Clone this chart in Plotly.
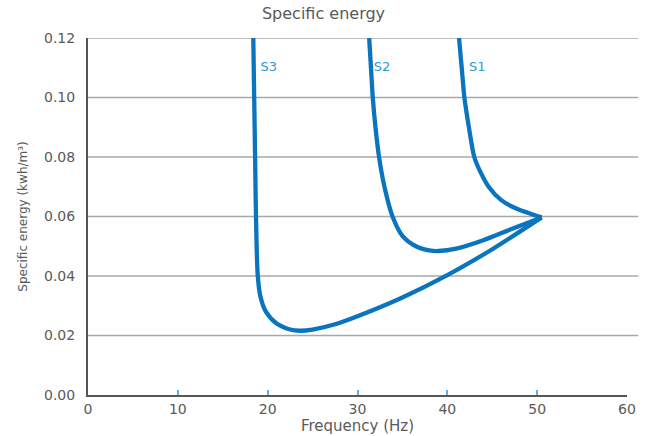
import plotly.graph_objects as go

# Data
s1_freq = [41.3, 41.6, 41.9, 42.4, 43.0, 43.6, 44.6, 46.0, 47.8, 49.5, 50.5]
s1_energy = [0.12, 0.11, 0.10, 0.09, 0.080, 0.0755, 0.070, 0.0655, 0.0625, 0.0607, 0.0597]

s2_freq = [31.3, 31.5, 31.7, 32.0, 32.4, 33.0, 33.9, 35.0, 36.5, 38.0, 39.0, 41.0, 44.0, 47.0, 50.5]
s2_energy = [0.12, 0.11, 0.10, 0.09, 0.080, 0.070, 0.060, 0.0535, 0.0500, 0.0486, 0.0484, 0.0492, 0.0520, 0.0556, 0.0597]

s3_freq = [18.4, 18.5, 18.6, 18.7, 18.9, 19.2, 19.8, 21.0, 22.5, 23.6, 25.0, 27.5, 30.0, 35.0, 40.0, 45.0, 50.5]
s3_energy = [0.12, 0.10, 0.08, 0.06, 0.040, 0.033, 0.028, 0.0240, 0.0220, 0.0216, 0.0220, 0.0238, 0.0265, 0.0328, 0.0403, 0.0490, 0.0597]

series_names = ["S1", "S2", "S3"]
label_freq = [42.4, 31.8, 19.2]
label_energy = [0.1099, 0.1099, 0.1099]

x_ticks = [0, 10, 20, 30, 40, 50, 60]
y_ticks = [0.00, 0.02, 0.04, 0.06, 0.08, 0.10, 0.12]

line_color = "#0a74bf"
label_color = "#2b9ad8"
text_color = "#5a5a5a"
font_family = "DejaVu Sans, sans-serif"

fig = go.Figure()
for name, fx, fy in zip(series_names, [s1_freq, s2_freq, s3_freq], [s1_energy, s2_energy, s3_energy]):
    fig.add_trace(go.Scatter(
        x=fx, y=fy, mode="lines", name=name,
        line=dict(color=line_color, width=4.3, shape="spline", smoothing=0.8),
        showlegend=False, hoverinfo="skip",
    ))

fig.add_trace(go.Scatter(
    x=label_freq, y=label_energy, mode="text", text=series_names,
    textposition="middle right",
    textfont=dict(color=label_color, size=13, family=font_family),
    showlegend=False, hoverinfo="skip",
))

# horizontal grid lines extending slightly past the right end of the x axis
for v in y_ticks[1:]:
    fig.add_shape(type="line", xref="paper", yref="y", x0=0, x1=1.021, y0=v, y1=v,
                  line=dict(color="#a8a8a8", width=1.5), layer="below")

fig.update_layout(
    width=647, height=436,
    margin=dict(l=88, r=20, t=38, b=41),
    paper_bgcolor="white", plot_bgcolor="white",
    font=dict(family=font_family, color=text_color, size=13),
    title=dict(text="Specific energy", x=0.5, xanchor="center", y=0.982, yanchor="top",
               font=dict(size=16, color=text_color, family=font_family)),
)

fig.update_xaxes(
    range=[0, 60], tickvals=x_ticks, ticktext=[str(v) for v in x_ticks],
    showgrid=False, zeroline=False, automargin=False,
    showline=True, linecolor="#555555", linewidth=2,
    ticks="inside", ticklen=5, tickcolor="#5bb0e8", tickwidth=1.5,
    tickfont=dict(size=14, color=text_color),
    title=dict(text="Frequency (Hz)", font=dict(size=15, color=text_color), standoff=0),
)
fig.update_yaxes(
    range=[0, 0.12], tickvals=y_ticks, ticktext=[f"{v:.2f}" for v in y_ticks],
    showgrid=False, zeroline=False, automargin=False,
    showline=True, linecolor="#555555", linewidth=2,
    ticks="", ticklabelstandoff=8,
    tickfont=dict(size=14, color=text_color),
    title=dict(text="Specific energy (kwh/m³)", font=dict(size=12, color=text_color), standoff=14),
)

fig.write_html("out.html", config={"displayModeBar": False},
               post_script="document.body.style.margin='0';")
